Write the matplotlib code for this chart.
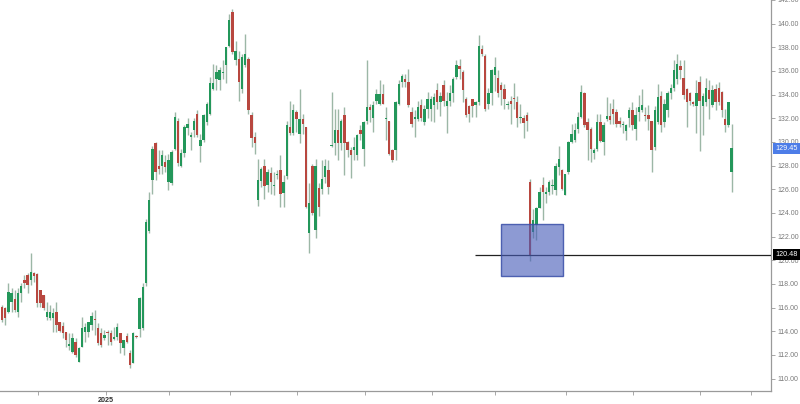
import matplotlib
matplotlib.use("Agg")
import matplotlib.pyplot as plt
import matplotlib.transforms as mtransforms
from matplotlib.patches import Rectangle
import numpy as np

opens = [116.08, 115.93, 115.65, 116.5, 116.7, 115.65, 117.26, 118.33, 118.75, 118.33,
         118.89, 118.83, 117.48, 117.06, 115.18, 115.09, 115.09, 115.65, 114.81, 114.44,
         113.97, 112.76, 112.28, 113.12, 111.43, 112.7, 113.97, 113.97, 114.53, 115.04,
         114.25, 113.83, 113.4, 113.97, 113.83, 113.32, 113.54, 113.83, 112.56, 113.63,
         112.19, 111.35, 113.63, 114.16, 114.25, 118.05, 122.5, 126.8, 129.9, 128.0,
         128.0, 128.3, 126.6, 126.5, 129.4, 131.8, 128.0, 129.1, 131.2, 130.4,
         131.0, 132.4, 129.7, 130.2, 131.7, 132.4, 134.5, 135.3, 135.2, 135.8,
         136.47, 138.15, 140.97, 136.9, 137.0, 134.5, 136.5, 137.0, 132.3, 130.4,
         125.1, 126.7, 127.95, 126.35, 127.4, 126.3, 127.2, 127.65, 125.7, 127.1,
         131.3, 130.75, 132.5, 130.65, 131.95, 131.27, 122.3, 128.0, 122.6, 126.1,
         126.0, 127.0, 127.6, 129.7, 129.9, 131.0, 129.9, 132.25, 130.0, 129.35,
         129.3, 128.9, 131.0, 129.4, 131.8, 132.95, 132.0, 133.5, 133.2, 134.08,
         131.9, 131.8, 129.3, 129.3, 133.2, 135.05, 135.3, 135.06, 132.5, 131.97,
         131.9, 133.1, 131.7, 132.8, 132.8, 133.1, 134.4, 133.4, 134.8, 133.0,
         133.5, 134.1, 135.5, 136.4, 135.9, 133.6, 133.0, 133.65, 133.1, 133.4,
         137.9, 137.3, 133.2, 134.1, 135.65, 135.4, 134.8, 134.5, 133.1, 133.5,
         133.7, 133.4, 132.0, 132.0, 132.3, 126.6, 122.4, 122.95, 124.4, 126.35,
         125.6, 125.8, 126.3, 125.9, 127.9, 127.6, 125.5, 127.5, 130.0, 130.15,
         131.1, 132.1, 134.1, 131.7, 131.1, 129.1, 129.4, 131.7, 130.0, 131.9,
         132.2, 132.8, 132.5, 131.8, 131.4, 130.9, 132.0, 132.67, 131.1, 132.5,
         132.67, 132.3, 132.3, 131.8, 129.6, 131.7, 133.9, 131.7, 132.7, 134.1,
         134.6, 135.3, 136.4, 135.4, 134.5, 134.1, 133.4, 133.0, 135.05, 133.0,
         133.4, 134.4, 133.1, 134.5, 134.6, 134.2, 131.97, 131.4, 127.5]

highs = [116.22, 116.08, 118.05, 117.62, 117.48, 117.62, 118.05, 118.75, 118.89, 120.58,
         119.0, 118.89, 117.48, 117.06, 116.5, 116.22, 115.93, 116.5, 114.81, 114.81,
         113.97, 113.83, 113.83, 113.4, 112.7, 115.23, 114.67, 114.81, 115.65, 115.79,
         114.67, 114.25, 114.11, 114.11, 114.11, 114.39, 114.67, 113.83, 113.12, 113.83,
         112.42, 113.97, 113.7, 116.9, 118.05, 123.5, 125.8, 129.7, 130.0, 129.3,
         129.3, 128.9, 129.0, 129.3, 132.5, 132.0, 129.4, 131.4, 132.0, 130.85,
         132.0, 132.7, 130.7, 132.4, 133.4, 135.5, 136.6, 136.5, 136.3, 136.9,
         138.0, 140.8, 141.25, 138.55, 137.7, 137.45, 139.14, 137.2, 132.5, 130.85,
         128.6, 127.9, 128.6, 127.75, 127.9, 127.45, 127.6, 128.9, 127.2, 131.8,
         133.5, 133.2, 132.7, 134.5, 132.4, 131.27, 126.5, 128.1, 128.6, 126.5,
         128.45, 128.6, 128.45, 134.2, 132.8, 132.8, 131.97, 132.95, 130.1, 129.6,
         130.4, 130.7, 131.4, 131.8, 136.9, 133.2, 133.5, 134.5, 135.2, 134.9,
         132.95, 131.8, 129.4, 133.5, 135.2, 135.77, 135.77, 136.2, 132.95, 132.7,
         133.5, 133.65, 133.1, 134.2, 133.9, 134.1, 135.0, 134.2, 135.2, 134.2,
         134.8, 135.5, 136.9, 137.0, 136.1, 133.8, 133.1, 133.65, 133.5, 139.0,
         138.2, 137.46, 134.6, 136.2, 137.2, 136.05, 135.1, 134.9, 133.5, 133.9,
         135.0, 133.9, 133.24, 132.3, 132.5, 126.9, 124.3, 124.5, 126.2, 127.05,
         126.2, 126.8, 126.9, 128.2, 129.7, 127.75, 127.3, 130.1, 131.5, 131.6,
         132.5, 134.8, 134.2, 132.0, 131.3, 129.45, 132.4, 132.4, 131.7, 133.8,
         133.3, 133.6, 132.8, 132.1, 131.8, 131.55, 132.96, 133.36, 132.96, 134.0,
         134.5, 132.96, 133.1, 131.8, 133.0, 134.9, 134.35, 133.65, 134.35, 134.9,
         136.9, 137.46, 136.9, 136.9, 134.6, 134.2, 133.5, 135.2, 135.6, 134.1,
         135.4, 135.2, 134.8, 134.9, 135.05, 134.35, 132.8, 133.36, 131.55]

lows = [114.81, 114.53, 115.51, 115.65, 115.65, 115.23, 116.5, 117.62, 117.2, 117.9,
        118.2, 116.08, 116.08, 115.8, 114.95, 114.95, 113.97, 113.97, 113.97, 113.4,
        112.7, 112.42, 112.14, 111.86, 111.43, 112.7, 113.12, 113.54, 114.11, 113.69,
        112.84, 112.7, 113.26, 112.84, 112.84, 113.26, 113.26, 112.14, 111.99, 112.98,
        110.87, 111.29, 113.4, 113.54, 114.11, 117.8, 122.3, 125.6, 126.8, 127.3,
        127.3, 127.5, 125.9, 126.4, 129.3, 128.0, 127.9, 128.7, 130.6, 129.3,
        130.4, 130.4, 128.3, 130.0, 131.4, 132.25, 134.4, 134.4, 134.4, 135.3,
        135.0, 138.0, 137.45, 136.5, 133.5, 134.1, 136.3, 132.4, 129.6, 129.0,
        124.6, 126.2, 125.2, 125.8, 125.6, 125.5, 126.9, 124.5, 124.5, 126.9,
        130.6, 130.6, 130.85, 129.9, 130.7, 124.4, 120.6, 123.85, 121.9, 123.7,
        125.6, 126.5, 125.6, 129.6, 128.9, 128.45, 129.3, 127.2, 128.7, 126.95,
        128.45, 128.45, 130.15, 128.0, 131.5, 131.7, 130.85, 133.2, 133.1, 133.2,
        130.15, 128.9, 128.3, 128.45, 133.1, 134.65, 134.65, 132.95, 131.27, 130.4,
        131.8, 131.8, 131.4, 132.0, 131.8, 131.7, 132.8, 132.2, 133.0, 130.8,
        133.0, 133.4, 135.35, 135.35, 133.4, 132.1, 131.7, 132.1, 132.1, 133.1,
        137.3, 132.6, 132.8, 133.1, 134.3, 133.8, 133.1, 132.8, 132.8, 131.5,
        132.8, 131.3, 131.6, 130.3, 130.9, 119.9, 121.9, 121.7, 124.4, 123.4,
        124.8, 125.5, 125.6, 125.5, 127.2, 125.9, 125.5, 127.3, 129.9, 130.0,
        130.8, 132.0, 131.3, 128.45, 128.3, 128.6, 129.2, 130.0, 128.9, 131.8,
        131.55, 131.55, 131.3, 131.3, 130.8, 130.15, 131.3, 131.0, 130.14, 131.8,
        132.5, 131.8, 131.0, 127.5, 129.3, 131.55, 130.85, 131.3, 132.1, 133.65,
        134.35, 134.9, 135.3, 133.65, 131.3, 133.1, 133.0, 130.8, 129.2, 130.6,
        133.0, 131.9, 132.96, 132.7, 133.1, 132.1, 130.85, 131.3, 125.8]

closes = [114.95, 115.09, 117.34, 117.2, 115.79, 117.26, 117.82, 118.05, 117.9, 118.97,
          118.66, 116.36, 116.36, 115.93, 115.65, 115.65, 115.51, 114.53, 114.0, 113.83,
          113.26, 112.9, 113.4, 112.0, 112.56, 114.25, 114.39, 114.81, 115.29, 114.95,
          112.98, 112.84, 113.69, 113.83, 113.12, 113.54, 114.33, 112.98, 113.26, 113.07,
          111.15, 113.88, 113.49, 116.78, 117.76, 123.25, 125.1, 129.4, 127.5, 127.7,
          128.9, 127.9, 128.45, 129.15, 132.1, 128.2, 129.1, 131.3, 131.5, 130.6,
          131.8, 130.6, 130.2, 132.25, 133.2, 135.0, 135.0, 135.9, 136.05, 135.9,
          138.0, 140.27, 137.6, 137.7, 135.1, 137.2, 137.45, 132.7, 130.3, 129.9,
          126.8, 127.75, 126.3, 127.5, 126.6, 126.4, 127.25, 125.6, 126.6, 131.4,
          130.75, 132.7, 131.9, 131.9, 131.55, 124.5, 124.85, 124.0, 128.0, 124.5,
          126.9, 127.95, 126.2, 129.75, 131.0, 129.9, 131.8, 129.9, 129.3, 128.9,
          129.6, 130.6, 130.7, 131.7, 132.95, 132.7, 133.1, 134.08, 134.08, 133.2,
          132.0, 129.0, 128.45, 133.4, 134.9, 135.6, 135.05, 133.1, 131.5, 132.1,
          132.95, 132.0, 132.8, 133.6, 133.6, 133.8, 133.4, 133.9, 133.5, 133.5,
          134.1, 135.35, 136.5, 136.2, 134.4, 132.25, 132.4, 133.0, 133.4, 138.1,
          137.46, 132.8, 134.1, 136.05, 136.3, 134.1, 134.4, 133.65, 133.24, 133.24,
          133.6, 132.0, 132.1, 131.6, 131.8, 120.48, 123.4, 124.4, 125.8, 125.8,
          125.8, 126.6, 126.4, 128.0, 128.6, 126.06, 127.3, 130.0, 130.7, 131.0,
          132.1, 134.2, 131.4, 131.0, 129.4, 129.3, 131.7, 130.1, 131.4, 132.2,
          131.85, 132.4, 131.55, 131.55, 131.55, 131.4, 132.67, 131.4, 132.25, 132.96,
          133.1, 132.2, 131.9, 129.3, 132.7, 133.8, 131.4, 133.2, 134.1, 134.6,
          136.05, 136.6, 136.05, 134.0, 133.4, 133.5, 133.2, 134.1, 133.5, 133.9,
          134.6, 133.65, 134.4, 133.4, 133.4, 132.67, 131.4, 133.36, 129.45]

y_ticks = [110, 112, 114, 116, 118, 120, 122, 124, 126, 128, 130, 132, 134, 136, 138, 140, 142]
month_ticks = [11.25, 32.4, 52.2, 71.4, 92.2, 113.4, 134.4, 154.1, 176.25, 197.2, 218.1, 234.1]
month_labels = ["", "2025", "", "", "", "", "", "", "", "", "", ""]
last_price = 129.45
level_price = 120.48
box_prices = (118.67, 123.03)
box_span = (155.9, 175.2)
level_start = 147.8

FONT = ["Liberation Sans", "DejaVu Sans"]
plt.rcParams["font.family"] = FONT

o = np.array(opens); h = np.array(highs); l = np.array(lows); c = np.array(closes)
x = np.arange(len(o))
up = c >= o

fig = plt.figure(figsize=(8.0, 4.04), dpi=100)
ax = fig.add_axes([0.0, 13 / 404, 771 / 800, 1 - 13 / 404])

GREEN = "#23975a"
RED = "#b8473f"
WICK = "#9cb7a6"

ax.vlines(x, l, h, color=WICK, linewidth=1.0, zorder=2)
body_bottom = np.minimum(o, c)
body_h = np.maximum(np.abs(c - o), 0.08)
ax.bar(x[up], body_h[up], bottom=body_bottom[up], width=0.72, color=GREEN, linewidth=0, zorder=3)
ax.bar(x[~up], body_h[~up], bottom=body_bottom[~up], width=0.72, color=RED, linewidth=0, zorder=3)

xmax = 240.3
ax.set_xlim(-0.625, xmax)
ax.set_ylim(108.95, 142.0)

# level line and highlight box
ax.hlines(level_price, level_start, xmax, color="#222222", linewidth=0.9, zorder=4)
rect = Rectangle((box_span[0], box_prices[0]), box_span[1] - box_span[0], box_prices[1] - box_prices[0],
                 facecolor=(0.28, 0.36, 0.72, 0.62), edgecolor=(0.22, 0.30, 0.66, 0.85),
                 linewidth=1.0, zorder=5)
ax.add_patch(rect)

# axes styling
for s in ["left", "top"]:
    ax.spines[s].set_visible(False)
for s in ["right", "bottom"]:
    ax.spines[s].set_color("#9a9a9a")
    ax.spines[s].set_linewidth(0.9)

ax.yaxis.tick_right()
ax.set_yticks(y_ticks)
ax.set_yticklabels([f"{v:.2f}" for v in y_ticks])
ax.tick_params(axis="y", length=3, width=0.6, color="#9a9a9a", pad=1.5,
               labelsize=5.0, labelcolor="#7a7a7a")
ax.set_xticks(month_ticks)
ax.set_xticklabels(month_labels, fontweight="bold")
ax.tick_params(axis="x", direction="out", length=3, width=0.6, color="#9a9a9a", pad=1,
               labelsize=5.2, labelcolor="#333333")

trans = mtransforms.blended_transform_factory(ax.transAxes, ax.transData)
ax.text(1.006, last_price, f"{last_price:.2f}", transform=trans, ha="left", va="center",
        fontsize=5.2, color="white", zorder=10, clip_on=False,
        bbox=dict(boxstyle="square,pad=0.3", facecolor="#4d7de8", edgecolor="none"))
ax.text(1.006, level_price, f"{level_price:.2f}", transform=trans, ha="left", va="center",
        fontsize=5.2, color="white", zorder=10, clip_on=False,
        bbox=dict(boxstyle="square,pad=0.3", facecolor="#000000", edgecolor="none"))

fig.savefig("out.png", dpi=100, facecolor="white")
